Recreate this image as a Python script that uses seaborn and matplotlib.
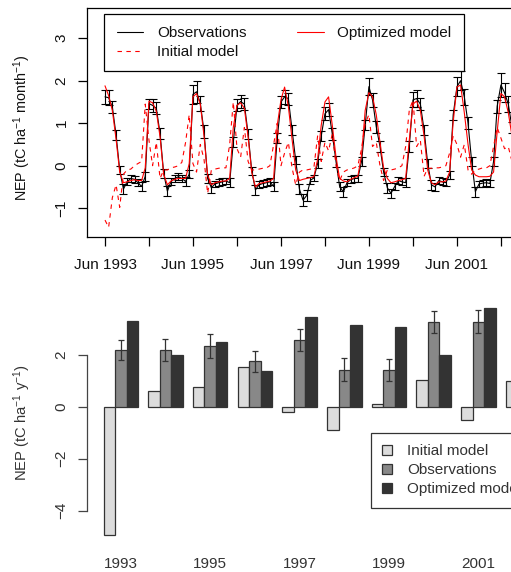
import numpy as np
import pandas as pd
import matplotlib
matplotlib.use("Agg")
import matplotlib.pyplot as plt
import matplotlib.transforms as mtransforms
from matplotlib.lines import Line2D
from matplotlib.patches import Patch
import seaborn as sns

# ---------------------------------------------------------
# Monthly NEP (tC/ha/month), Jun 1993 .. Dec 2002, one row per Jun..May year
# ---------------------------------------------------------
obs_monthly = [
    1.62, 1.60, 1.38, 0.72, -0.10, -0.55, -0.38, -0.30, -0.32, -0.40, -0.49, -0.25,
    1.46, 1.42, 1.35, 0.76, -0.18, -0.60, -0.37, -0.30, -0.26, -0.30, -0.37, -0.20,
    1.68, 1.74, 1.47, 0.81, -0.30, -0.52, -0.43, -0.40, -0.38, -0.36, -0.40, 0.55,
    1.42, 1.51, 1.45, 0.75, -0.12, -0.57, -0.45, -0.42, -0.40, -0.38, -0.49, 0.65,
    1.50, 1.62, 1.58, 0.84, 0.13, -0.55, -0.81, -0.70, -0.34, -0.29, 0.05, 0.70,
    1.22, 1.32, 0.75, 0.10, -0.49, -0.62, -0.40, -0.33, -0.30, -0.30, 0.10, 0.95,
    1.86, 1.55, 0.92, 0.45, -0.15, -0.52, -0.65, -0.49, -0.35, -0.38, -0.40, 0.45,
    1.55, 1.58, 1.45, 0.84, 0.05, -0.45, -0.50, -0.35, -0.38, -0.40, -0.22, 1.20,
    1.86, 2.00, 1.62, 1.00, 0.10, -0.61, -0.43, -0.41, -0.40, -0.42, 0.10, 1.40,
    1.90, 1.72, 1.45, 0.90, 0.20, -0.35, -0.50,
]
obs_err = [
    0.16, 0.18, 0.15, 0.12, 0.10, 0.12, 0.08, 0.08, 0.08, 0.08, 0.10, 0.10,
    0.12, 0.15, 0.14, 0.12, 0.10, 0.12, 0.08, 0.08, 0.08, 0.08, 0.10, 0.10,
    0.22, 0.26, 0.18, 0.15, 0.10, 0.12, 0.08, 0.08, 0.08, 0.08, 0.10, 0.12,
    0.14, 0.16, 0.15, 0.12, 0.10, 0.12, 0.08, 0.08, 0.08, 0.08, 0.10, 0.12,
    0.15, 0.16, 0.14, 0.12, 0.10, 0.12, 0.15, 0.12, 0.08, 0.08, 0.10, 0.12,
    0.15, 0.16, 0.14, 0.12, 0.10, 0.12, 0.08, 0.08, 0.08, 0.08, 0.10, 0.12,
    0.20, 0.16, 0.14, 0.12, 0.10, 0.12, 0.10, 0.08, 0.08, 0.08, 0.10, 0.12,
    0.18, 0.20, 0.14, 0.12, 0.10, 0.12, 0.10, 0.08, 0.08, 0.08, 0.10, 0.12,
    0.22, 0.23, 0.18, 0.14, 0.10, 0.12, 0.08, 0.08, 0.08, 0.08, 0.10, 0.15,
    0.29, 0.22, 0.18, 0.14, 0.10, 0.10, 0.10,
]
opt_monthly = [
    1.88, 1.65, 1.30, 0.62, -0.15, -0.40, -0.38, -0.35, -0.33, -0.35, -0.35, -0.05,
    1.52, 1.48, 1.28, 0.68, -0.20, -0.45, -0.36, -0.32, -0.30, -0.30, -0.30, 0.05,
    1.62, 1.70, 1.45, 0.70, -0.22, -0.45, -0.40, -0.38, -0.36, -0.36, -0.30, 0.90,
    1.42, 1.48, 1.35, 0.68, -0.15, -0.50, -0.42, -0.40, -0.38, -0.36, -0.30, 0.95,
    1.55, 1.85, 1.40, 0.62, -0.10, -0.35, -0.32, -0.30, -0.28, -0.26, 0.15, 0.95,
    1.50, 1.62, 0.95, 0.20, -0.30, -0.36, -0.38, -0.32, -0.28, -0.25, 0.25, 1.30,
    1.72, 1.62, 1.20, 0.55, -0.05, -0.30, -0.40, -0.38, -0.35, -0.33, -0.30, 0.60,
    1.45, 1.52, 1.30, 0.70, -0.10, -0.40, -0.45, -0.38, -0.38, -0.36, -0.15, 1.05,
    1.85, 1.90, 1.25, 0.50, -0.10, -0.22, -0.26, -0.26, -0.26, -0.25, -0.15, 0.80,
    1.70, 1.62, 1.25, 0.70, 0.10, -0.20, -0.30,
]
init_monthly = [
    -1.28, -1.45, -0.75, -0.45, -0.98, -0.20, -0.10, -0.08, 0.00, 0.05, 0.10, 1.45,
    0.60, 0.00, 0.55, -0.30, -0.10, -0.10, -0.05, -0.03, 0.00, 0.08, 0.55, 1.20,
    0.05, -0.15, 0.50, 0.15, -0.65, -0.10, -0.08, -0.06, -0.05, -0.05, 0.50, 1.50,
    0.40, 0.20, 0.90, 0.10, -0.10, -0.10, -0.08, -0.06, -0.05, 0.00, 0.50, 1.00,
    0.00, 0.30, 0.55, -0.05, -0.45, -0.15, -0.10, -0.10, -0.08, -0.05, 0.70, 0.10,
    0.55, 0.35, 0.75, 0.00, -0.35, -0.15, -0.10, -0.08, -0.05, 0.00, 0.40, 1.00,
    1.20, 0.45, 0.55, 0.00, -0.35, -0.10, -0.10, -0.08, -0.05, 0.00, 0.45, 1.30,
    1.55, 0.45, 0.60, -0.25, -0.06, -0.06, -0.05, -0.05, -0.03, 0.00, 0.30, 0.70,
    0.50, 0.20, 0.50, -0.10, -0.20, -0.10, -0.08, -0.05, -0.05, 0.00, 0.45, 0.90,
    0.65, 0.40, 0.45, 0.10, -0.20, -0.10, -0.05,
]

# ---------------------------------------------------------
# Annual NEP (tC/ha/y)
# ---------------------------------------------------------
years = ["1993", "1994", "1995", "1996", "1997", "1998", "1999", "2000", "2001", "2002"]
init_annual = [-4.95, 0.62, 0.75, 1.53, -0.19, -0.90, 0.10, 1.03, -0.52, 0.97]
obs_annual = [2.18, 2.17, 2.33, 1.74, 2.56, 1.42, 1.40, 3.26, 3.27, 3.00]
obs_annual_err = [0.40, 0.42, 0.45, 0.40, 0.43, 0.45, 0.43, 0.42, 0.45, 0.40]
opt_annual = [3.31, 2.00, 2.50, 1.36, 3.46, 3.13, 3.06, 1.97, 3.79, 3.30]
series_names = ["Initial model", "Observations", "Optimized model"]
bar_colors = ["#dcdcdc", "#888888", "#333333"]

sns.set_theme(style="ticks")
plt.rcParams["font.family"] = ["Liberation Sans", "DejaVu Sans"]
plt.rcParams["font.size"] = 12
plt.rcParams["mathtext.fontset"] = "custom"
plt.rcParams["mathtext.rm"] = "Liberation Sans"
plt.rcParams["mathtext.it"] = "Liberation Sans"

W, H = 511, 572
fig = plt.figure(figsize=(W / 100, H / 100), dpi=100)
ax1 = fig.add_axes([87.3 / W, 1 - 237.3 / H, (575 - 87.3) / W, 229.0 / H])
ax2 = fig.add_axes([87 / W, 1 - 545 / H, (573 - 87) / W, 245.0 / H])

# ---------------------------------------------------------
# Top: monthly time series
# ---------------------------------------------------------
dates = pd.date_range("1993-06-01", periods=len(obs_monthly), freq="MS")
df_m = pd.DataFrame({"date": dates, "obs": obs_monthly, "opt": opt_monthly, "init": init_monthly})

sns.lineplot(data=df_m, x="date", y="obs", color="black", lw=0.8, ax=ax1)
ax1.errorbar(df_m["date"], df_m["obs"], yerr=obs_err, fmt="none", ecolor="black",
             elinewidth=0.8, capsize=2.8, capthick=0.8)
sns.lineplot(data=df_m, x="date", y="opt", color="red", lw=0.8, ax=ax1)
sns.lineplot(data=df_m, x="date", y="init", color="red", lw=0.8, linestyle=(0, (4, 4)), ax=ax1)

x0 = pd.Timestamp("1993-06-01") - pd.Timedelta(days=147)
ax1.set_xlim(x0, x0 + pd.Timedelta(days=4049))
ax1.set_ylim(-1.685, 3.704)
ticks = pd.date_range("1993-06-01", "2002-06-01", freq="12MS")
ax1.set_xticks(ticks)
ax1.set_xticklabels([d.strftime("%b %Y") if i % 2 == 0 else "" for i, d in enumerate(ticks)])
ax1.set_yticks([-1, 0, 1, 2, 3])
ax1.set_yticklabels(["\u22121", "0", "1", "2", "3"])
plt.setp(ax1.get_yticklabels(), rotation=90, va="center")
ax1.tick_params(length=6.5, width=0.9, color="black", labelcolor="#111111", pad=7)
ax1.tick_params(axis="x", pad=8.5)
for s in ax1.spines.values():
    s.set_color("black")
    s.set_linewidth(0.9)
ax1.set_xlabel("")
ax1.set_ylabel(r"NEP (tC ha$^{-1}$ month$^{-1}$)", color="#111111", fontsize=10.4)
ax1.yaxis.set_label_coords(33 / W, 0.48, transform=mtransforms.blended_transform_factory(fig.transFigure, ax1.transAxes))

handles = [Line2D([], [], color="black", lw=0.8),
           Line2D([], [], color="red", lw=0.8, linestyle=(0, (4, 4))),
           Line2D([], [], color="red", lw=0.8)]
leg = ax1.legend(handles, ["Observations", "Initial model", "Optimized model"], ncol=2,
                 loc="upper left", bbox_to_anchor=(104.3 / W, 1 - 14 / H), bbox_transform=fig.transFigure,
                 borderaxespad=0, frameon=True, fancybox=False, edgecolor="black", framealpha=1,
                 borderpad=0.8, labelspacing=0.32, handlelength=1.75, handletextpad=0.9, columnspacing=3.3)
leg.get_frame().set_linewidth(0.9)
for t in leg.get_texts():
    t.set_color("#111111")

# ---------------------------------------------------------
# Bottom: annual totals
# ---------------------------------------------------------
df_a = pd.DataFrame({
    "year": years * 3,
    "series": [n for n in series_names for _ in years],
    "value": init_annual + obs_annual + opt_annual,
})
sns.barplot(data=df_a, x="year", y="value", hue="series", order=years, hue_order=series_names,
            palette=bar_colors, width=0.77, edgecolor="#333333", linewidth=0.9,
            errorbar=None, legend=False, ax=ax2)
ax2.errorbar(np.arange(len(years)), obs_annual, yerr=obs_annual_err, fmt="none",
             ecolor="#333333", elinewidth=0.9, capsize=2.4, capthick=0.9)

ax2.set_xlim(-0.756, 10.116)
ax2.set_ylim(-5.32, 4.10)
ax2.set_xticks(range(len(years)))
ax2.set_xticklabels([y if i % 2 == 0 else "" for i, y in enumerate(years)])
ax2.set_yticks([-4, -2, 0, 2])
ax2.set_yticklabels(["\u22124", "\u22122", "0", "2"])
plt.setp(ax2.get_yticklabels(), rotation=90, va="center")
ax2.tick_params(axis="y", length=6.5, width=0.9, color="#444444", labelcolor="#333333", pad=7)
ax2.tick_params(axis="x", length=0, labelcolor="#333333", pad=9)
for name, s in ax2.spines.items():
    s.set_visible(name == "left")
ax2.spines["left"].set_bounds(-4, 2)
ax2.spines["left"].set_color("#444444")
ax2.spines["left"].set_linewidth(0.9)
ax2.set_xlabel("")
ax2.set_ylabel(r"NEP (tC ha$^{-1}$ y$^{-1}$)", color="#333333", fontsize=10.6)
ax2.yaxis.set_label_coords(33 / W, 0.5, transform=mtransforms.blended_transform_factory(fig.transFigure, ax2.transAxes))

bar_handles = [Patch(facecolor=c, edgecolor="#333333", linewidth=0.9) for c in bar_colors]
leg2 = ax2.legend(bar_handles, series_names, loc="upper left",
                  bbox_to_anchor=(371 / W, 1 - 433 / H), bbox_transform=fig.transFigure,
                  borderaxespad=0, frameon=True, fancybox=False, edgecolor="#333333", framealpha=1,
                  borderpad=0.75, labelspacing=0.32, handlelength=0.6, handleheight=0.6, handletextpad=1.0)
leg2.get_frame().set_linewidth(0.9)
for t in leg2.get_texts():
    t.set_color("#333333")

fig.savefig("out.png", dpi=100)
